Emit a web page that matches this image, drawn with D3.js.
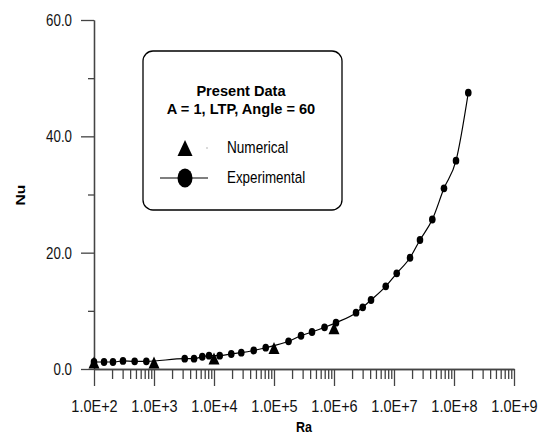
<!DOCTYPE html>
<html lang="en">
<head>
    <meta charset="UTF-8">
    <title>Nu vs Ra</title>
    <style>
        body { margin: 0; background: #fff; }
        svg { font-family: "Liberation Sans", Arial, sans-serif; }
        .axis .domain { stroke: #444; stroke-width: 1.3; }
        .axis line { stroke: #444; stroke-width: 1.3; }
        .tall { transform-box: fill-box; transform-origin: center; transform: scaleY(1.2); }
    </style>
</head>
<body>
    <svg width="550" height="435"></svg>
    <script src="https://d3js.org/d3.v7.min.js"></script>
    <script>
        // experimental points (circles, joined by the curve)
        var expRa = [100, 147, 207, 304, 476, 745, 3250, 4650, 6380, 8260, 12450, 19400, 28500, 45900, 72800,
                     174600, 282000, 430000, 695000, 1080000, 2330000, 3010000, 4140000, 7280000,
                     1.11e7, 1.85e7, 2.71e7, 4.35e7, 6.81e7, 1.08e8, 1.73e8];
        var expNu = [1.2, 1.2, 1.2, 1.38, 1.32, 1.32, 1.77, 1.77, 2.11, 2.29, 2.29, 2.58, 2.8, 3.18, 3.66,
                     4.76, 5.72, 6.36, 7.17, 7.96, 9.68, 10.61, 11.86, 14.22,
                     16.45, 19.13, 22.18, 25.7, 31.06, 35.81, 47.5];
        // numerical points (triangles)
        var numRa = [1e2, 1e3, 1e4, 1e5, 1e6];
        var numNu = [1.1, 1.1, 1.8, 3.6, 7.0];

        var xTicks = [1e2, 1e3, 1e4, 1e5, 1e6, 1e7, 1e8, 1e9];
        var yTicks = [0, 20, 40, 60];
        var yMinor = [10, 30, 50];

        var svg = d3.select("svg");

        var x = d3.scaleLog().domain([1e2, 1e9]).range([94, 514]);
        var y = d3.scaleLinear().domain([0, 60]).range([369, 20]);

        // minor ticks on the log axis: 2..9 in every decade
        var xMinor = [];
        xTicks.slice(0, -1).forEach(function(d){
            for (var k = 2; k <= 9; k++) xMinor.push(d * k);
        });

        svg.append("g")
            .attr("class", "axis")
            .attr("transform", "translate(0," + y(0) + ")")
            .call(d3.axisBottom(x).tickValues(xMinor).tickSize(10).tickSizeOuter(0).tickFormat(""));

        var gx = svg.append("g")
            .attr("class", "axis")
            .attr("transform", "translate(0," + y(0) + ")")
            .call(d3.axisBottom(x).tickValues(xTicks).tickSize(17).tickSizeOuter(0)
                .tickFormat(function(d){ return "1.0E+" + Math.round(Math.log10(d)); }));
        gx.selectAll("text")
            .attr("y", 37).attr("dy", "0.35em")
            .attr("font-size", 14.5).attr("fill", "#111")
            .attr("class", "tall");

        svg.append("g")
            .attr("class", "axis")
            .attr("transform", "translate(" + x(1e2) + ",0)")
            .call(d3.axisLeft(y).tickValues(yMinor).tickSize(6).tickSizeOuter(0).tickFormat(""));

        var gy = svg.append("g")
            .attr("class", "axis")
            .attr("transform", "translate(" + x(1e2) + ",0)")
            .call(d3.axisLeft(y).tickValues(yTicks).tickSize(13).tickPadding(9).tickSizeOuter(0)
                .tickFormat(d3.format(".1f")));
        gy.selectAll("text")
            .attr("dy", "0.35em")
            .attr("font-size", 13.3).attr("fill", "#111")
            .attr("class", "tall");

        // axis titles
        svg.append("text")
            .attr("x", 304).attr("y", 427).attr("dy", "0.35em")
            .attr("text-anchor", "middle")
            .attr("font-size", 12.5).attr("font-weight", "bold")
            .attr("class", "tall")
            .text("Ra");
        svg.append("text")
            .attr("transform", "translate(20,195) scale(1,1.2) rotate(-90)")
            .attr("dy", "0.35em")
            .attr("text-anchor", "middle")
            .attr("font-size", 13).attr("font-weight", "bold")
            .text("Nu");

        var exp = expRa.map(function(d, i){ return [d, expNu[i]]; });
        var num = numRa.map(function(d, i){ return [d, numNu[i]]; });

        var line = d3.line()
            .x(function(d){ return x(d[0]); })
            .y(function(d){ return y(d[1]); })
            .curve(d3.curveMonotoneX);

        svg.append("path")
            .datum(exp)
            .attr("fill", "none")
            .attr("stroke", "#000")
            .attr("stroke-width", 1.2)
            .attr("d", line);

        function tri(w, h) {
            return "M0," + (-h / 2) + "L" + (w / 2) + "," + (h / 2) + "L" + (-w / 2) + "," + (h / 2) + "Z";
        }

        svg.append("g").selectAll("path")
            .data(num)
            .enter().append("path")
            .attr("transform", function(d){ return "translate(" + x(d[0]) + "," + y(d[1]) + ")"; })
            .attr("d", tri(11, 12))
            .attr("fill", "#000");

        svg.append("g").selectAll("ellipse")
            .data(exp)
            .enter().append("ellipse")
            .attr("cx", function(d){ return x(d[0]); })
            .attr("cy", function(d){ return y(d[1]); })
            .attr("rx", 3.3)
            .attr("ry", 3.9)
            .attr("fill", "#000");

        // legend
        var lg = svg.append("g");
        lg.append("rect")
            .attr("x", 143).attr("y", 51)
            .attr("width", 199).attr("height", 159)
            .attr("rx", 10).attr("ry", 10)
            .attr("fill", "#fff").attr("stroke", "#000").attr("stroke-width", 1.3);
        lg.append("text")
            .attr("x", 241).attr("y", 91).attr("dy", "0.35em")
            .attr("text-anchor", "middle").attr("font-size", 14.6).attr("font-weight", "bold")
            .text("Present Data");
        lg.append("text")
            .attr("x", 241).attr("y", 108.5).attr("dy", "0.35em")
            .attr("text-anchor", "middle").attr("font-size", 14.6).attr("font-weight", "bold")
            .text("A = 1, LTP, Angle = 60");
        lg.append("path")
            .attr("transform", "translate(185,148)")
            .attr("d", tri(15, 16))
            .attr("fill", "#000");
        lg.append("circle")
            .attr("cx", 207).attr("cy", 148).attr("r", 0.7)
            .attr("fill", "#999");
        lg.append("text")
            .attr("x", 227).attr("y", 147.5).attr("dy", "0.35em")
            .attr("font-size", 13.6)
            .attr("class", "tall")
            .text("Numerical");
        lg.append("line")
            .attr("x1", 160).attr("x2", 208).attr("y1", 178).attr("y2", 178)
            .attr("stroke", "#000").attr("stroke-width", 1.2);
        lg.append("ellipse")
            .attr("cx", 185).attr("cy", 178).attr("rx", 7.5).attr("ry", 9.5)
            .attr("fill", "#000");
        lg.append("text")
            .attr("x", 227).attr("y", 177.8).attr("dy", "0.35em")
            .attr("font-size", 13.4)
            .attr("class", "tall")
            .text("Experimental");
    </script>
</body>
</html>
